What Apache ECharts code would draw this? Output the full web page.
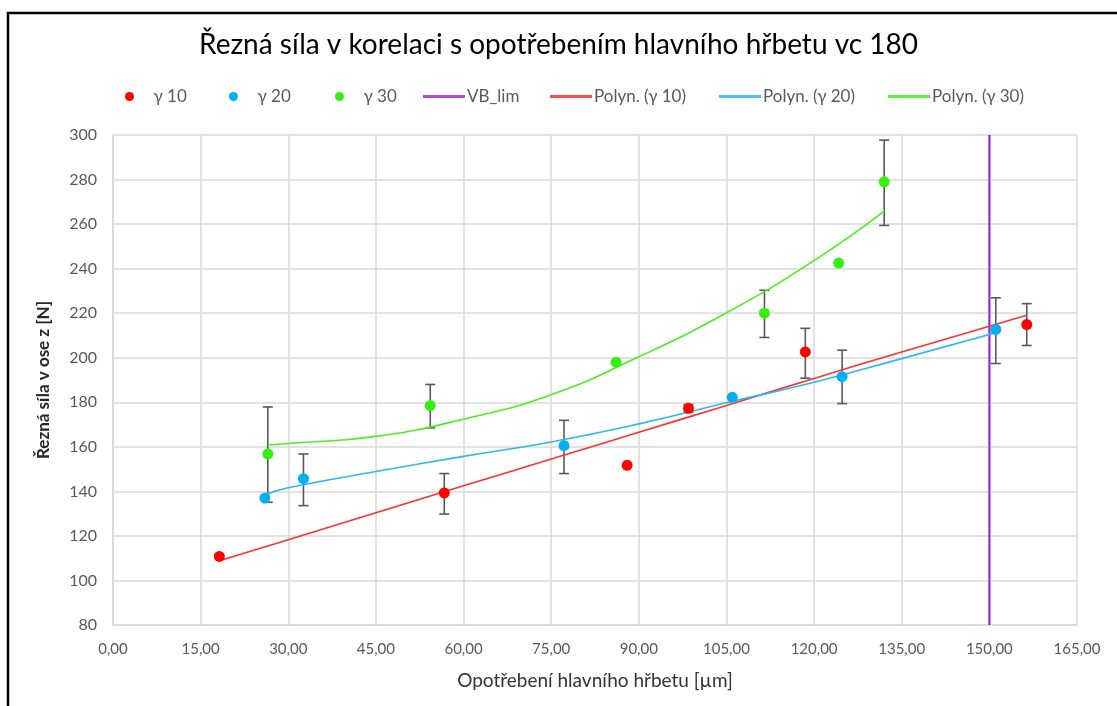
<!DOCTYPE html>
<html>
<head>
<meta charset="utf-8">
<script src="https://cdn.jsdelivr.net/npm/echarts@6/dist/echarts.min.js"></script>
<style>html,body{margin:0;padding:0;background:#fff;}#c{width:1117px;height:706px;}</style>
</head>
<body>
<div id="c"></div>
<script>
// ---- data ----
const titleText = 'Řezná síla v korelaci s opotřebením hlavního hřbetu vc 180';
const xAxisTitle = 'Opotřebení hlavního hřbetu [µm]';
const yAxisTitle = 'Řezná síla v ose z [N]';

const g10 = [[18.2,110.8],[56.7,139.3],[88.0,151.7],[98.5,177.3],[118.5,202.6],[156.4,214.9]];
const g20 = [[26.0,137.0],[32.6,145.7],[77.2,160.5],[106.0,182.2],[124.8,191.5],[151.1,212.7]];
const g30 = [[26.5,156.8],[54.3,178.5],[86.1,198.0],[111.5,220.0],[124.2,242.5],[132.0,279.0]];

// error bars: [x, low, high]
const err10 = [[56.7,129.8,148.0],[98.5,175.6,179.0],[118.5,190.8,213.2],[156.4,205.5,224.3]];
const err20 = [[32.6,133.6,156.8],[77.2,148.0,171.9],[124.8,179.4,203.4],[151.1,197.4,226.9]];
const err30 = [[26.5,135.1,177.9],[54.3,168.5,188.0],[111.5,209.1,230.3],[132.0,259.4,297.7]];

const vbLim = [[150,80],[150,300]];

// trend curves (Polyn.)
const trend10 = [[18.2,108.8],[30,118.3],[45,130.4],[60,142.5],[75,154.5],[90,166.5],[105,178.6],[120,190.7],[135,202.6],[156.4,219.1]];
const trend20 = [[26.0,138.5],[30,141.6],[45,148.9],[60,155.7],[75,162.2],[90,170.3],[105,179.8],[120,189.0],[135,199.6],[151.1,211.2]];
const trend30 = [[26.5,160.8],[30,161.5],[45,164.7],[60,172.4],[75,183.4],[90,200.4],[105,220.2],[120,243.6],[132.0,265.8]];

const legendNames = ['γ 10','γ 20','γ 30','VB_lim','Polyn. (γ 10)','Polyn. (γ 20)','Polyn. (γ 30)'];

const C10 = '#ff0000', C20 = '#00b0f0', C30 = '#33f00f';
const FONT = 'Lato';

function errSeries(data) {
  return {
    type: 'custom',
    data: data,
    z: 1,
    silent: true,
    renderItem: function (params, api) {
      const x = api.value(0);
      const lo = api.coord([x, api.value(1)]);
      const hi = api.coord([x, api.value(2)]);
      const w = 5;
      const st = {stroke: '#595959', lineWidth: 1.6};
      return {
        type: 'group',
        children: [
          {type: 'line', shape: {x1: lo[0], y1: lo[1], x2: hi[0], y2: hi[1]}, style: st},
          {type: 'line', shape: {x1: lo[0]-w, y1: lo[1], x2: lo[0]+w, y2: lo[1]}, style: st},
          {type: 'line', shape: {x1: hi[0]-w, y1: hi[1], x2: hi[0]+w, y2: hi[1]}, style: st}
        ]
      };
    }
  };
}

const legendLefts = [120, 224, 330, 418, 545, 714, 883];
const legends = legendNames.map(function (n, i) {
  const isDot = i < 3;
  return {
    data: [n],
    left: legendLefts[i],
    top: 83,
    itemWidth: isDot ? 38 : 42,
    itemHeight: isDot ? 9 : 3,
    icon: isDot ? 'circle' : 'rect',
    itemGap: 0,
    textStyle: {fontFamily: FONT, fontSize: 17, color: '#595959', padding: isDot ? [0,0,0,0] : [0,0,0,-3]}
  };
});

const chart = echarts.init(document.getElementById('c'), null, {renderer: 'canvas'});
chart.setOption({
  backgroundColor: '#ffffff',
  animation: false,
  title: {
    text: titleText,
    left: 'center',
    top: 26,
    textStyle: {fontFamily: FONT, fontSize: 28, fontWeight: 'normal', color: '#000000'}
  },
  legend: legends,
  graphic: [{
    type: 'rect',
    shape: {x: 8, y: 13, width: 1200, height: 800},
    style: {fill: 'none', stroke: '#000', lineWidth: 2.5},
    silent: true
  }],
  grid: {left: 113, right: 40, top: 135, bottom: 81},
  xAxis: {
    type: 'value', min: 0, max: 165, interval: 15,
    name: xAxisTitle, nameLocation: 'middle', nameGap: 46,
    nameTextStyle: {fontFamily: FONT, fontSize: 19, color: '#333333', fontWeight: 'normal'},
    axisLine: {show: true, lineStyle: {color: '#d9d9d9', width: 1.5}},
    axisTick: {show: false},
    splitLine: {show: true, lineStyle: {color: '#d9d9d9', width: 1.5}},
    axisLabel: {fontFamily: FONT, fontSize: 15, color: '#595959', margin: 17,
      formatter: function (v) { return v.toFixed(2).replace('.', ','); }}
  },
  yAxis: {
    type: 'value', min: 80, max: 300, interval: 20,
    name: yAxisTitle, nameLocation: 'middle', nameGap: 61, nameRotate: 90,
    nameTextStyle: {fontFamily: FONT, fontSize: 17, color: '#262626', fontWeight: 'bold'},
    axisLine: {show: true, lineStyle: {color: '#d9d9d9', width: 1.5}},
    axisTick: {show: false},
    splitLine: {show: true, lineStyle: {color: '#d9d9d9', width: 1.5}},
    axisLabel: {fontFamily: FONT, fontSize: 16, color: '#595959', margin: 16}
  },
  series: [
    errSeries(err10), errSeries(err20), errSeries(err30),
    {name: 'VB_lim', type: 'line', data: vbLim, showSymbol: false, z: 2,
      lineStyle: {color: '#9b1bd8', width: 2}, itemStyle: {color: '#b44be0'}},
    {name: 'Polyn. (γ 10)', type: 'line', data: trend10, smooth: true, showSymbol: false, z: 3,
      lineStyle: {color: '#ff3030', width: 1.6}, itemStyle: {color: '#ff5050'}},
    {name: 'Polyn. (γ 20)', type: 'line', data: trend20, smooth: true, showSymbol: false, z: 3,
      lineStyle: {color: '#2cb8ee', width: 1.6}, itemStyle: {color: '#4cc4f2'}},
    {name: 'Polyn. (γ 30)', type: 'line', data: trend30, smooth: true, showSymbol: false, z: 3,
      lineStyle: {color: '#4cee22', width: 1.6}, itemStyle: {color: '#5cf040'}},
    {name: 'γ 10', type: 'scatter', data: g10, symbolSize: 11, z: 4, itemStyle: {color: C10, opacity: 1}},
    {name: 'γ 20', type: 'scatter', data: g20, symbolSize: 11, z: 4, itemStyle: {color: C20, opacity: 1}},
    {name: 'γ 30', type: 'scatter', data: g30, symbolSize: 11, z: 4, itemStyle: {color: C30, opacity: 1}}
  ]
});
</script>
</body>
</html>
